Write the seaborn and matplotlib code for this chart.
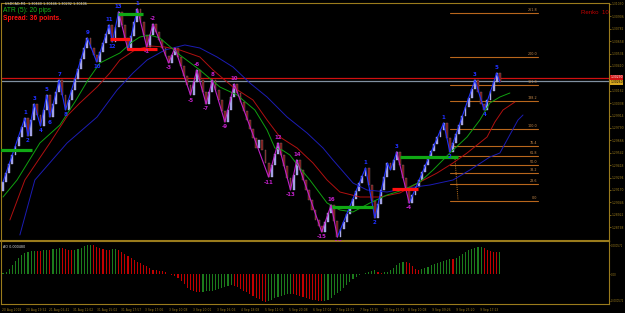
import numpy as np
import pandas as pd
import matplotlib
matplotlib.use("Agg")
import matplotlib.pyplot as plt
import seaborn as sns

# ---------------- data ----------------
renko_close = [
    1.2925, 1.2934, 1.2943, 1.2952, 1.2961, 1.2970, 1.2980, 1.2989, 1.2971, 1.2987,
    1.3003, 1.2992, 1.2981, 1.2997, 1.3012, 1.2990, 1.3003, 1.3015, 1.3027, 1.3012,
    1.2997, 1.3007, 1.3017, 1.3028, 1.3038, 1.3048, 1.3059, 1.3069, 1.3059, 1.3052,
    1.3045, 1.3055, 1.3064, 1.3073, 1.3082, 1.3065, 1.3080, 1.3095, 1.3082, 1.3069,
    1.3057, 1.3071, 1.3085, 1.3098, 1.3085, 1.3072, 1.3060, 1.3072, 1.3083, 1.3075,
    1.3067, 1.3059, 1.3051, 1.3044, 1.3052, 1.3059, 1.3050, 1.3041, 1.3031, 1.3022,
    1.3012, 1.3025, 1.3037, 1.3027, 1.3015, 1.3003, 1.3015, 1.3027, 1.3017, 1.3007,
    1.2996, 1.2985, 1.2997, 1.3010, 1.3023, 1.3014, 1.3005, 1.2996, 1.2987, 1.2978,
    1.2969, 1.2959, 1.2967, 1.2957, 1.2944, 1.2930, 1.2942, 1.2953, 1.2964, 1.2952,
    1.2941, 1.2929, 1.2917, 1.2932, 1.2947, 1.2937, 1.2927, 1.2917, 1.2907, 1.2897,
    1.2887, 1.2881, 1.2875, 1.2885, 1.2894, 1.2902, 1.2886, 1.2870, 1.2878, 1.2885,
    1.2893, 1.2901, 1.2908, 1.2916, 1.2924, 1.2931, 1.2939, 1.2922, 1.2906, 1.2889,
    1.2903, 1.2917, 1.2930, 1.2944, 1.2937, 1.2947, 1.2955, 1.2942, 1.2929, 1.2917,
    1.2904, 1.2912, 1.2920, 1.2927, 1.2935, 1.2942, 1.2949, 1.2956, 1.2963, 1.2970,
    1.2977, 1.2984, 1.2969, 1.2955, 1.2964, 1.2973, 1.2982, 1.2991, 1.3000, 1.3009,
    1.3018, 1.3027, 1.3015, 1.3003, 1.2997, 1.3007, 1.3016, 1.3025, 1.3034, 1.3025,
]
first_open = 1.2916

ma_fast_x = [0, 4.5, 11.8, 18.2, 23.0, 27.2, 31.0, 37.4, 41.3, 43.8, 47.0, 50.2, 56.6, 63.0,
             69.4, 74.9, 80.6, 84.5, 87.0, 89.3, 91.8, 95.0, 98.2, 103.7, 107.8, 112.0,
             117.4, 122.9, 128.0, 133.4, 137.6, 143.0, 148.5, 152.6, 155.8, 159.0, 162.2]
ma_fast = [1.2910, 1.2927, 1.2964, 1.2982, 1.3005, 1.3027, 1.3044, 1.3054, 1.3065, 1.3070,
           1.3072, 1.3069, 1.3052, 1.3037, 1.3020, 1.3012, 1.2997, 1.2977, 1.2959, 1.2957,
           1.2952, 1.2939, 1.2927, 1.2904, 1.2897, 1.2895, 1.2904, 1.2912, 1.2917, 1.2925,
           1.2937, 1.2954, 1.2970, 1.2987, 1.3004, 1.3010, 1.3014]

ma_mid_x = [2.2, 7.0, 15.0, 20.8, 24.6, 30.1, 34.2, 37.4, 42.2, 47.0, 51.8, 56.6, 63.0,
            67.2, 73.6, 80.0, 84.5, 88.6, 94.1, 99.2, 103.7, 107.8, 114.2, 120.6, 127.0,
            133.4, 138.9, 144.0, 148.5, 154.9, 157.4, 160.0, 163.8]
ma_mid = [1.2887, 1.2927, 1.2964, 1.2992, 1.3004, 1.3020, 1.3034, 1.3047, 1.3057, 1.3061,
          1.3060, 1.3057, 1.3050, 1.3037, 1.3020, 1.3007, 1.2987, 1.2970, 1.2959, 1.2944,
          1.2927, 1.2915, 1.2910, 1.2910, 1.2914, 1.2925, 1.2934, 1.2944, 1.2954, 1.2970,
          1.2985, 1.2997, 1.3005]

ma_slow_x = [5.4, 10.2, 20.5, 30.1, 36.5, 41.6, 46.1, 51.8, 58.2, 63.0, 68.5, 73.6, 79.0,
             84.5, 90.9, 97.3, 102.4, 105.6, 112.0, 116.5, 122.9, 129.3, 136.6, 144.0,
             149.4, 155.8, 159.0, 164.8, 166.4]
ma_slow = [1.2872, 1.2927, 1.2964, 1.2990, 1.3017, 1.3034, 1.3047, 1.3057, 1.3062, 1.3059,
           1.3050, 1.3040, 1.3024, 1.3010, 1.2990, 1.2974, 1.2959, 1.2947, 1.2924, 1.2917,
           1.2915, 1.2919, 1.2922, 1.2927, 1.2937, 1.2950, 1.2954, 1.2987, 1.2992]

zz_idx = [0, 7, 8, 10, 12, 14, 15, 18, 20, 27, 30, 34, 35, 37, 40, 43, 46, 48, 53, 55,
          60, 62, 65, 67, 71, 74, 85, 88, 92, 94, 102, 105, 107, 116, 119, 123, 124, 126,
          130, 141, 143, 151, 154, 158, 159]
zz_price = [1.2925, 1.2989, 1.2971, 1.3003, 1.2981, 1.3012, 1.2990, 1.3027, 1.2997, 1.3069,
            1.3045, 1.3082, 1.3065, 1.3095, 1.3057, 1.3098, 1.3060, 1.3083, 1.3044, 1.3059,
            1.3012, 1.3037, 1.3003, 1.3027, 1.2985, 1.3023, 1.2930, 1.2964, 1.2917, 1.2947,
            1.2875, 1.2902, 1.2870, 1.2939, 1.2889, 1.2944, 1.2937, 1.2955, 1.2904, 1.2984,
            1.2955, 1.3027, 1.2997, 1.3034, 1.3025]
zz_label = ['', '1', '2', '3', '4', '5', '6', '7', '8', '9', '10', '11', '12', '13', '',
            '1', '-1', '-2', '-3', '', '-5', '-6', '-7', '8', '-9', '10', '-11', '12', '-13',
            '14', '-15', '16', '-17', '1', '2', '', '', '3', '-4', '1', '2', '3', '4', '5', '']
zz_trend = ['b', 'b', 'b', 'b', 'b', 'b', 'b', 'b', 'b', 'b', 'b', 'b', 'b', 'b', 'm',
            'b', 'm', 'm', 'm', 'm', 'm', 'm', 'm', 'm', 'm', 'm', 'm', 'm', 'm',
            'm', 'm', 'm', 'm', 'b', 'b', 'b', 'b', 'b', 'm', 'b', 'b', 'b', 'b', 'b', 'b']

ao = [2, 4, 10, 18, 26, 32, 38, 42, 44, 46, 47, 46.4, 46, 48, 49, 48.6, 50, 51, 52, 51.6,
      50.6, 49, 48, 48.8, 50, 53, 55.6, 57.2, 58, 57.2, 55, 52, 50, 49, 48.4, 50, 50.6, 49,
      44, 40, 36, 32, 28, 24, 22, 18, 16, 12, 9, 7.6, 6.4, 5.2, 3.6, 0.6, -1.6, -4, -8, -13,
      -20, -28, -32, -34, -35, -36, -35.2, -34.6, -34, -33, -32, -30, -28, -26, -24, -22.6,
      -24, -26, -30, -34, -36, -40, -44, -48, -50, -54, -56, -54, -51, -48, -45, -43, -41,
      -40, -39, -40, -42, -44, -46, -48, -50, -51, -52, -53, -54, -53, -51.6, -48, -42,
      -38, -34, -28, -22, -16, -10, -5, -2, 0.4, 2, 4, 6, 8, 5, 3, 3.6, 5, 8, 13, 18, 22,
      24, 23.6, 22, 16, 11, 8.4, 10, 12, 15, 18, 20, 22, 24, 26, 28, 30, 29.4, 33, 36, 40,
      44, 48, 51, 53, 54, 54.6, 53, 49, 46, 44.4, 43.6, 44]

fib_price = [1.3094, 1.3050, 1.3022, 1.3006, 1.2978, 1.2961, 1.2951, 1.2942, 1.2934, 1.2923, 1.2906]
fib_label = ['261.8', '200.0', '161.8', '138.2', '100.0', '76.4', '61.8', '50.0', '38.2', '23.6', '0.0']

sr_green = [(-0.96, 9.3, 1.2957), (36.8, 44.8, 1.3093), (105.3, 118.4, 1.2900), (127.0, 145.6, 1.2950)]
sr_red = [(34.2, 40.6, 1.3068), (39.7, 49.3, 1.3058), (124.5, 132.8, 1.2918)]

ask_price = 1.3029
bid_price = 1.3026

price_ticks = [1.31030, 1.30906, 1.30782, 1.30658, 1.30534, 1.30410, 1.30162,
               1.30038, 1.29914, 1.29790, 1.29666, 1.29542, 1.29418, 1.29294, 1.29170,
               1.29046, 1.28922, 1.28798]

ao_ticks = [0.000571, 0.0, -0.000535]
ao_tick_labels = ['0.000571', '0.00', '-0.000572']

time_tick_idx = [-0.4, 7.4, 14.8, 22.3, 30.0, 37.7, 45.4, 53.2, 60.7, 68.4, 76.1, 83.8,
                 91.6, 99.3, 106.6, 114.2, 121.9, 129.5, 137.2, 144.9, 152.5]
time_labels = ['20 Aug 2018', '20 Aug 19:52', '21 Aug 06:41', '31 Aug 11:02', '31 Aug 15:02',
               '31 Aug 17:57', '3 Sep 17:06', '3 Sep 10:08', '3 Sep 20:01', '3 Sep 16:06',
               '4 Sep 18:08', '5 Sep 11:06', '5 Sep 20:08', '6 Sep 17:04', '7 Sep 24:01',
               '7 Sep 17:35', '10 Sep 15:03', '8 Sep 10:08', '9 Sep 09:26', '9 Sep 25:20',
               '9 Sep 17:13']

# ---------------- style ----------------
sns.set_theme(style="dark")
GOLD = '#9a7b1c'
plt.rcParams.update({
    'axes.facecolor': 'black', 'figure.facecolor': 'black',
    'axes.edgecolor': GOLD, 'axes.grid': False,
    'xtick.color': GOLD, 'ytick.color': GOLD,
})
plt.rcParams['font.family'] = ['DejaVu Sans']

W, H = 625, 313
fig = plt.figure(figsize=(W / 100, H / 100), dpi=100)
ax = fig.add_axes([1 / W, (H - 241) / H, 608 / W, 238 / H])
ax2 = fig.add_axes([1 / W, (H - 304) / H, 608 / W, 63 / H])

XMIN, XMAX = -0.64, 193.92
ax.set_xlim(XMIN, XMAX)
ax.set_ylim(1.2866, 1.3104)

# renko bricks
closes = np.array(renko_close)
opens = np.concatenate([[first_open], closes[:-1]])
idx = np.arange(len(closes))
up = closes >= opens
ax.bar(idx[up], (closes - opens)[up], bottom=opens[up], width=0.6,
       color='#9c9ce0', edgecolor='#c8c8f8', linewidth=0.25, zorder=3)
ax.bar(idx[~up], (opens - closes)[~up], bottom=closes[~up], width=0.6,
       color='#781414', edgecolor='#907878', linewidth=0.25, zorder=3)

# moving averages
for xs, ys, col in [(ma_slow_x, ma_slow, '#1c1cb4'), (ma_mid_x, ma_mid, '#b01010'),
                    (ma_fast_x, ma_fast, '#10a010')]:
    sns.lineplot(x=xs, y=ys, ax=ax, color=col, linewidth=0.7, estimator=None,
                 sort=False, zorder=4)

# price lines
ax.axhline(ask_price, color='#d01010', linewidth=0.9, zorder=2)
ax.axhline(bid_price, color='#8090a0', linewidth=0.9, zorder=2)

# support / resistance
for x0, x1, p in sr_green:
    ax.plot([x0, x1], [p, p], color='#10a814', linewidth=2.3, zorder=6, solid_capstyle='butt')
for x0, x1, p in sr_red:
    ax.plot([x0, x1], [p, p], color='#ff1010', linewidth=2.3, zorder=6, solid_capstyle='butt')

# fibonacci
fx0, fx1 = 143.0, 171.2
for p, lab in zip(fib_price, fib_label):
    ax.plot([fx0, fx1], [p, p], color='#b8661c', linewidth=0.8, zorder=2)
    ax.text(fx1 - 0.3, p + 0.00005, lab, color='#c88a4a', fontsize=2.4,
            ha='right', va='bottom', zorder=2)
ax.plot([144.6, 145.6], [1.2950, 1.2907], color='#c8781c', linewidth=0.7,
        linestyle=(0, (1, 1.2)), zorder=2)

# zigzag
rows = []
unit = 0
for j in range(1, len(zz_idx)):
    if j > 1 and zz_trend[j] != zz_trend[j - 1]:
        unit += 1
    rows.append((zz_idx[j - 1], zz_price[j - 1], unit, zz_trend[j], j))
    rows.append((zz_idx[j], zz_price[j], unit, zz_trend[j], j + 0.5))
zdf = pd.DataFrame(rows, columns=['x', 'y', 'unit', 'trend', 'order']).sort_values('order')
zdf = zdf.drop_duplicates(subset=['x', 'y', 'unit'])
sns.lineplot(data=zdf, x='x', y='y', units='unit', hue='trend',
             palette={'b': '#2030ff', 'm': '#c020c8'}, estimator=None, sort=False,
             linewidth=0.8, legend=False, ax=ax, zorder=5)
for j, (xi, p, lab) in enumerate(zip(zz_idx, zz_price, zz_label)):
    if not lab:
        continue
    prev_p = zz_price[j - 1] if j > 0 else p
    nxt_p = zz_price[j + 1] if j + 1 < len(zz_price) else prev_p
    peak = p >= prev_p and p >= nxt_p
    col = '#2030ff' if zz_trend[j] == 'b' else '#c020c8'
    if lab.startswith('-'):
        col = '#c020c8'
    ax.text(xi, p + (0.00025 if peak else -0.00025), lab, color=col, fontsize=4.0,
            fontweight='bold', ha='center', va='bottom' if peak else 'top', zorder=7)

# axes cosmetics main
ax.set_xticks([])
ax.yaxis.tick_right()
ax.set_yticks(price_ticks)
ax.set_yticklabels([f'{v:.5f}' for v in price_ticks])
ax.tick_params(axis='y', labelsize=2.2, length=1.2, width=0.5, pad=0.5, colors=GOLD)
ax.set_xlabel('')
ax.set_ylabel('')
for s in ax.spines.values():
    s.set_color(GOLD)
    s.set_linewidth(0.8)
ax.spines['bottom'].set_linewidth(1.5)

# AO panel
ao_vals = np.array(ao) * 1e-5
ao_idx = np.arange(len(ao_vals))
ao_col = ['#1c7c1c'] + ['#1c7c1c' if ao_vals[k] > ao_vals[k - 1] else '#c00000'
                        for k in range(1, len(ao_vals))]
ax2.bar(ao_idx, ao_vals, width=0.38, color=ao_col, linewidth=0)
ax2.set_xlim(XMIN, XMAX)
ax2.set_ylim(-0.00060, 0.00066)
ax2.yaxis.tick_right()
ax2.set_yticks(ao_ticks)
ax2.set_yticklabels(ao_tick_labels)
ax2.tick_params(axis='y', labelsize=1.9, length=1.0, width=0.5, pad=0.3, colors=GOLD)
ax2.set_xticks(time_tick_idx)
ax2.set_xticklabels(time_labels, ha='left')
ax2.tick_params(axis='x', labelsize=2.2, length=2, width=0.5, pad=0.6, colors=GOLD)
ax2.set_xlabel('')
ax2.set_ylabel('')
for s in ax2.spines.values():
    s.set_color(GOLD)
    s.set_linewidth(0.8)
ax2.text(0.004, 0.93, 'AO 0.000480', transform=ax2.transAxes, color='#d8d8d8',
         fontsize=2.4, va='top', ha='left')

# overlay texts (pixel positions)
def px(x, y):
    return x / W, 1 - y / H

fig.text(*px(5, 4), 'USDCAD,M1  1.30440 1.30446 1.30292 1.30406', color='#d8d8d8',
         fontsize=2.4, va='center', ha='left')
fig.text(*px(3, 11), 'ATR (5): 20 pips', color='#18b018', fontsize=4.8,
         va='center', ha='left', family=['Liberation Sans', 'DejaVu Sans'])
fig.text(*px(3, 19), 'Spread: 36 points.', color='#ff1010', fontsize=4.8,
         va='center', ha='left', fontweight='bold', family=['Liberation Sans', 'DejaVu Sans'])
fig.text(*px(581, 12), 'Renko  10', color='#c00000', fontsize=4.4,
         va='center', ha='left', family=['Liberation Sans', 'DejaVu Sans'])

# current price boxes on the right scale
for p, fc, tc, dy in [(ask_price, '#d01010', 'white', 0.00008), (bid_price, '#d8a820', 'black', -0.00012)]:
    ax.text(1.002, p + dy, f'{p:.5f}', transform=ax.get_yaxis_transform(), fontsize=2.2,
            color=tc, va='center', ha='left', zorder=10,
            bbox=dict(boxstyle='square,pad=0.1', fc=fc, ec='none'))

fig.savefig('out.png', dpi=100, facecolor='black')
